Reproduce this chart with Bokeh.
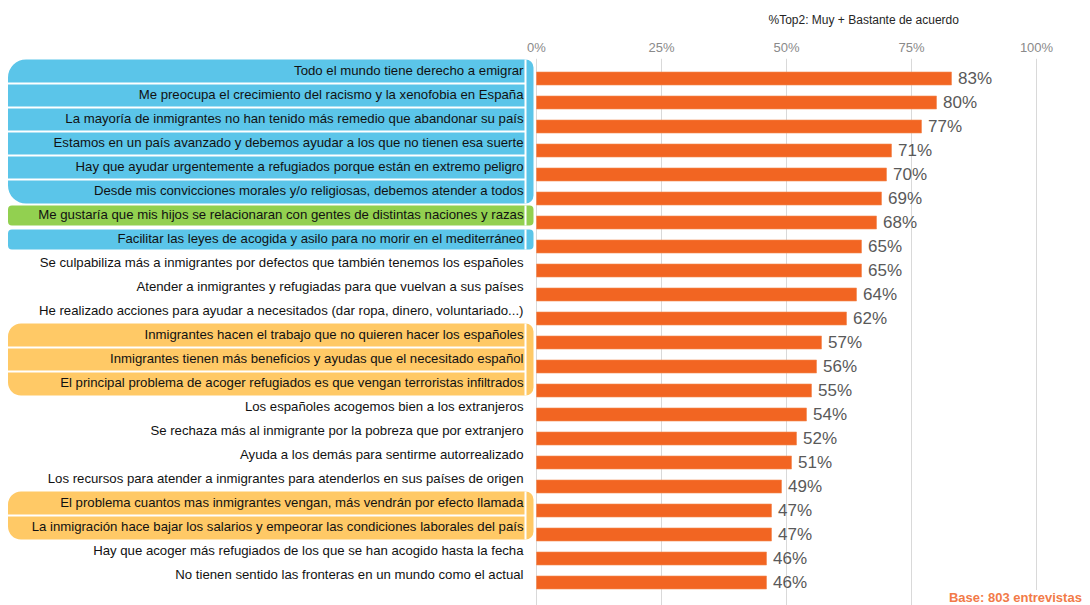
from bokeh.plotting import figure
from bokeh.models import Range1d, FixedTicker, PrintfTickFormatter, Label, ColumnDataSource
from bokeh.core.properties import value
from bokeh.embed import file_html
from bokeh.resources import INLINE

labels = [
    "Todo el mundo tiene derecho a emigrar",
    "Me preocupa el crecimiento del racismo y la xenofobia en España",
    "La mayoría de inmigrantes no han tenido más remedio que abandonar su país",
    "Estamos en un país avanzado y debemos ayudar a los que no tienen esa suerte",
    "Hay que ayudar urgentemente a refugiados porque están en extremo peligro",
    "Desde mis convicciones morales y/o religiosas, debemos atender a todos",
    "Me gustaría que mis hijos se relacionaran con gentes de distintas naciones y razas",
    "Facilitar las leyes de acogida y asilo para no morir en el mediterráneo",
    "Se culpabiliza más a inmigrantes por defectos que también tenemos los españoles",
    "Atender a inmigrantes y refugiadas para que vuelvan a sus países",
    "He realizado acciones para ayudar a necesitados (dar ropa, dinero, voluntariado...)",
    "Inmigrantes hacen el trabajo que no quieren hacer los españoles",
    "Inmigrantes tienen más beneficios y ayudas que el necesitado español",
    "El principal problema de acoger refugiados es que vengan terroristas infiltrados",
    "Los españoles acogemos bien a los extranjeros",
    "Se rechaza más al inmigrante por la pobreza que por extranjero",
    "Ayuda a los demás para sentirme autorrealizado",
    "Los recursos para atender a inmigrantes para atenderlos en sus países de origen",
    "El problema cuantos mas inmigrantes vengan, más vendrán por efecto llamada",
    "La inmigración hace bajar los salarios y empeorar las condiciones laborales del país",
    "Hay que acoger más refugiados de los que se han acogido hasta la fecha",
    "No tienen sentido las fronteras en un mundo como el actual",
]
values = [83, 80, 77, 71, 70, 69, 68, 65, 65, 64, 62, 57, 56, 55, 54, 52, 51, 49, 47, 47, 46, 46]
highlight = (["blue"] * 6 + ["green", "blue", "", "", "", "yellow", "yellow", "yellow",
                              "", "", "", "", "yellow", "yellow", "", ""])
ticks = [0, 25, 50, 75, 100]
title_text = "%Top2: Muy + Bastante de acuerdo"
base_text = "Base: 803  entrevistas"

COLORS = {"blue": "#5BC5E9", "green": "#92D050", "yellow": "#FFC966"}
BAR = "#F26522"

# layout constants (pixels)
PX_PCT = 5.0      # pixels per percent
ROW = 24.0        # row pitch
W, H = 1090, 605
TOP = 58          # space above frame
BOTTOM = 0        # space below frame
ZERO_X = 536      # pixel position of 0 %
FIRST_Y = 78      # pixel position of first bar centre

n = len(labels)
rows = list(range(n))
ys = [-r for r in rows]

frame_h = H - TOP - BOTTOM
y_top = (FIRST_Y - TOP) / ROW
y_bot = y_top - frame_h / ROW
x_left = -ZERO_X / PX_PCT
x_right = x_left + W / PX_PCT

p = figure(width=W, height=H, output_backend="svg", toolbar_location=None,
           x_range=Range1d(x_left, x_right), y_range=Range1d(y_bot, y_top),
           x_axis_location="above", min_border_left=0, min_border_right=0,
           min_border_bottom=BOTTOM, min_border_top=TOP)
p.yaxis.visible = False
p.outline_line_color = None
p.background_fill_color = "white"
p.border_fill_color = "white"

xa = p.xaxis[0]
xa.ticker = FixedTicker(ticks=ticks)
xa.formatter = PrintfTickFormatter(format="%d%%")
xa.axis_line_color = None
xa.major_tick_line_color = None
xa.minor_tick_line_color = None
xa.major_tick_out = 0
xa.major_tick_in = 0
xa.major_label_standoff = 4
xa.major_label_text_font = "Liberation Sans"
xa.major_label_text_font_size = "13px"
xa.major_label_text_color = "#8A8A8A"

p.ygrid.visible = False
p.xgrid.ticker = FixedTicker(ticks=ticks)
p.xgrid.grid_line_color = "#D9D9D9"
p.xgrid.grid_line_width = 1

p.title.text = title_text
p.title.align = "left"
p.title.offset = 768
p.title.standoff = 19
p.title.text_font = "Liberation Sans"
p.title.text_font_size = "12px"
p.title.text_font_style = "normal"
p.title.text_color = "#262626"

# highlighted label bands
lab_off = 7.0 / ROW           # labels sit 7px above their bar
band_left = x_left + 7.5 / PX_PCT
band_right = -3.0 / PX_PCT
sep_x = -11.0 / PX_PCT
runs = []
i = 0
while i < n:
    c = highlight[i]
    j = i
    while j + 1 < n and highlight[j + 1] == c:
        j += 1
    if c:
        runs.append((i, j, c))
    i = j + 1

for a, b, c in runs:
    single = a == b
    pad = 2.0 / ROW if single else 0.0
    top = -a + lab_off + 0.5 - pad
    bottom = -b + lab_off - 0.5 + pad
    if single:
        rad = (4, 4, 4, 4)
    else:
        big = 18 if (b - a) >= 4 else 13
        rad = (big, 8, 8, big)
    p.quad(left=band_left, right=band_right, top=top, bottom=bottom,
           fill_color=COLORS[c], line_color=None, border_radius=rad)
    p.segment(x0=[sep_x], y0=[top], x1=[sep_x], y1=[bottom],
              line_color="white", line_width=2)
    if not single:
        sy = [-k + lab_off - 0.5 for k in range(a, b)]
        p.segment(x0=[band_left] * len(sy), y0=sy, x1=[sep_x] * len(sy), y1=sy,
                  line_color="white", line_width=2)

src = ColumnDataSource(dict(
    y=ys, v=values, lab=labels,
    ly=[y + lab_off + 1.5 / ROW for y in ys],
    vt=[f"{v}%" for v in values],
    vx=[v + 1.3 for v in values],
))

p.hbar(y="y", left=0, right="v", height=13.0 / ROW, source=src,
       fill_color=BAR, line_color="#F48A52", line_width=0.6)

p.text(x=sep_x - 0.4, y="ly", text="lab", source=src,
       text_align="right", text_baseline="middle",
       text_font=value("Liberation Sans"), text_font_size="13.2px",
       text_color="#111111")

p.text(x="vx", y="y", text="vt", source=src,
       text_align="left", text_baseline="middle",
       text_font=value("Liberation Sans"), text_font_size="17px",
       text_color="#595959")

p.add_layout(Label(x=W - 5, y=8, x_units="screen", y_units="screen",
                   text=base_text, text_align="right", text_baseline="middle",
                   text_font="Liberation Sans", text_font_size="13px",
                   text_font_style="bold", text_color="#F27A48",
                   background_fill_color="white"))

open("out.html", "w").write(file_html(p, INLINE))
